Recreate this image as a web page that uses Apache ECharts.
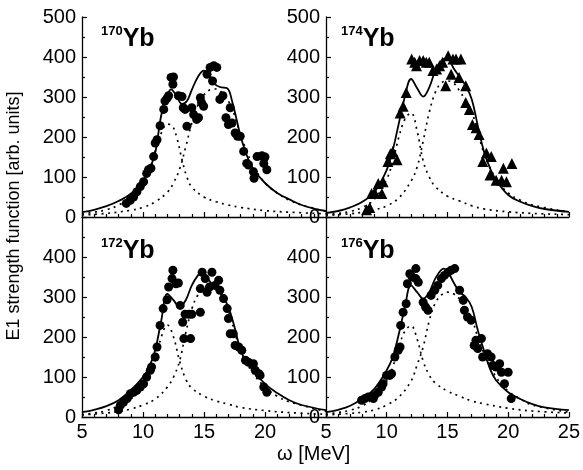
<!DOCTYPE html>
<html>
<head>
<meta charset="utf-8">
<script src="https://cdn.jsdelivr.net/npm/echarts@6/dist/echarts.min.js"></script>
<style>
  html, body { margin: 0; padding: 0; background: #fff; }
  #chart { width: 583px; height: 470px; }
</style>
</head>
<body>
<div id="chart"></div>
<script>
// 四个核素的标签
var nuclei = ['170', '174', '172', '176'];

// 170Yb 数据点 [E, S]
var pts170 = [[8.63,34],[8.96,42],[9.23,50],[9.5,63],[9.78,76],[10.05,88],[10.3,109],[10.45,118],[10.65,122],
  [10.87,151],[11.0,185],[11.15,193],[11.4,228],[11.7,269],[11.8,290],[11.97,297],[12.1,303],[12.3,349],
  [12.5,350],[12.45,332],[12.9,303],[13.2,301],[13.3,273],[13.45,269],[14.0,273],[14.15,256],[14.4,244],
  [14.55,248],[13.6,227],[14.7,298],[14.97,277],[14.8,286],[15.25,357],[15.5,374],[15.8,378],[16.05,374],
  [15.7,340],[16.3,294],[16.55,303],[17.15,273],[16.8,248],[17.0,231],[17.3,235],[17.55,210],[17.75,202],
  [17.97,202],[18.25,164],[18.5,134],[18.65,130],[19.05,113],[19.1,97],[19.35,151],[19.75,153],[20.0,150],
  [19.9,134],[20.15,118]];
var fit170 = [[5,12],[6,18],[7,27],[8,40],[9,58],[10,92],[10.5,118],[11,160],[11.5,255],[12,305],[12.3,319],
  [12.7,305],[13.2,283],[13.6,290],[14,318],[14.5,350],[15,366],[15.4,358],[15.8,335],[16.3,325],[16.9,322],
  [17.3,290],[17.7,240],[18,202],[18.5,155],[19,122],[20,85],[21,60],[22,44],[23,30],[24,21],[25,15]];
var low170 = [[5,8],[6,12],[7,18],[8,30],[9,50],[10,85],[10.5,115],[11,165],[11.5,210],[12,232],[12.4,228],
  [12.8,195],[13.2,143],[13.6,100],[14,75],[15,50],[16,38],[17,30],[18,24],[20,16],[22,12],[25,8]];
var high170 = [[5,5],[7,9],[9,17],[10,24],[11,38],[12,62],[12.5,85],[13,120],[13.5,175],[14,235],[14.5,280],
  [15,305],[15.5,318],[16,320],[16.5,310],[17,290],[17.5,255],[18,205],[18.5,165],[19,130],[20,85],[21,60],
  [22,42],[23,30],[25,14]];

// 174Yb 数据点 (三角形)
var pts174 = [[8.34,18],[8.6,24],[8.75,59],[9.0,61],[9.6,59],[9.3,84],[9.7,88],[10.1,139],[10.3,158],[10.5,164],
  [10.85,143],[11.1,260],[11.35,277],[11.6,311],[12.05,395],[12.3,387],[12.45,378],[12.7,391],[13.0,391],
  [13.25,387],[13.5,387],[13.8,366],[14.1,370],[14.35,378],[14.6,387],[15.05,403],[15.45,395],[15.7,395],
  [16.1,395],[14.85,328],[15.3,357],[15.95,349],[16.5,328],[16.5,286],[16.8,269],[17.05,231],[17.35,223],
  [17.6,206],[18.2,160],[17.9,139],[18.6,151],[18.5,105],[19.0,92],[19.45,92],[19.6,122],[19.85,88],[20.3,134]];
var fit174 = [[5,10],[6,15],[7,24],[8,38],[9,63],[10,118],[10.5,168],[11,235],[11.5,302],[12,345],[12.5,322],
  [13,301],[13.5,324],[14,366],[14.5,391],[15,397],[15.5,372],[16,350],[16.5,328],[17,294],[17.5,227],
  [18,164],[18.5,122],[19,92],[20,55],[21,38],[22,27],[23,20],[25,13]];
var low174 = [[5,6],[6,9],[7,14],[8,24],[9,45],[10,95],[10.5,140],[11,200],[11.5,245],[12,260],[12.5,215],
  [13,140],[13.5,100],[14,76],[15,52],[16,40],[17,28],[18,20],[20,13],[22,9],[25,6]];
var high174 = [[5,4],[7,8],[8,12],[9,18],[10,28],[11,48],[12,90],[12.5,125],[13,190],[13.5,262],[14,312],
  [14.5,335],[15,340],[15.5,335],[16,315],[16.5,290],[17,262],[17.5,212],[18,160],[19,95],[20,60],[21,42],
  [22,30],[25,12]];

// 172Yb
var pts172 = [[8.0,18],[8.14,29],[8.4,37],[8.7,46],[8.96,58],[9.23,62],[9.5,67],[9.78,75],[10.05,83],[10.3,100],
  [10.6,117],[10.7,125],[11.0,150],[11.15,175],[11.4,229],[11.65,271],[11.97,293],[12.1,325],[12.38,346],
  [12.45,367],[12.7,333],[12.9,335],[13.05,279],[13.25,237],[13.45,257],[13.75,257],[14.0,257],[13.35,196],
  [13.9,196],[14.7,262],[14.7,321],[14.85,362],[15.1,346],[15.25,312],[15.65,362],[15.45,325],[15.9,329],
  [16.2,342],[16.3,317],[16.6,296],[16.9,271],[17.0,246],[17.15,208],[17.4,208],[17.55,179],[17.85,175],
  [18.1,167],[18.4,142],[18.65,137],[19.05,133],[19.2,117],[19.5,108],[19.6,104],[19.9,75],[20.15,62]];
var fit172 = [[5,12],[6,18],[7,27],[8,42],[9,67],[10,100],[10.5,125],[11,167],[11.5,242],[12,308],[12.5,292],
  [13,275],[13.5,292],[14,329],[14.5,354],[14.8,362],[15.5,338],[16,321],[16.5,304],[17,275],[17.5,225],
  [18,167],[18.5,137],[19,117],[20,83],[21,60],[22,42],[23,30],[25,17]];
var low172 = [[5,6],[6,10],[7,16],[8,28],[9,45],[10,75],[10.5,100],[11,140],[11.5,200],[12,230],[12.5,200],
  [13,140],[13.5,95],[14,72],[15,52],[16,40],[17,32],[18,24],[20,16],[22,11],[25,7]];
var high172 = [[5,5],[7,10],[8,14],[9,20],[10,30],[11,45],[12,75],[12.5,100],[13,140],[13.5,210],[14,270],
  [14.5,305],[15,322],[15.5,328],[16,322],[16.5,300],[17,265],[17.5,215],[18,165],[19,110],[20,75],[21,52],
  [22,38],[25,14]];

// 176Yb
var pts176 = [[7.93,42],[8.2,46],[8.48,50],[8.75,50],[8.9,46],[9.0,54],[9.3,62],[9.58,75],[9.7,83],[9.98,104],
  [10.25,104],[10.4,108],[10.67,150],[10.95,167],[11.1,175],[11.15,229],[11.35,262],[11.6,283],[11.7,333],
  [11.9,358],[12.1,350],[12.4,371],[12.4,346],[12.6,337],[13.0,287],[13.2,275],[13.4,267],[13.65,304],
  [13.95,317],[14.2,329],[14.5,346],[14.75,354],[15.05,362],[15.3,367],[15.6,371],[16.0,317],[16.3,292],
  [16.4,267],[16.65,250],[16.95,242],[17.2,179],[17.35,192],[17.5,171],[17.8,196],[17.9,150],[18.3,158],
  [18.6,150],[18.75,129],[19.0,125],[19.3,133],[19.45,112],[19.7,83],[20.0,112],[20.25,46]];
var fit176 = [[5,12],[6,18],[7,28],[8,46],[9,71],[10,117],[10.5,150],[11,208],[11.5,275],[12,329],[12.5,312],
  [13,296],[13.5,312],[14,346],[14.7,371],[15.2,354],[15.5,337],[16,312],[16.5,300],[17,275],[17.5,217],
  [18,167],[18.5,121],[19,92],[20,62],[21,45],[22,32],[23,24],[25,17]];
var low176 = [[5,7],[6,11],[7,17],[8,28],[9,50],[10,90],[10.5,125],[11,175],[11.5,215],[12,228],[12.5,195],
  [13,140],[13.5,105],[14,85],[15,65],[16,52],[17,40],[18,33],[20,22],[22,15],[25,10]];
var high176 = [[5,5],[7,9],[8,12],[9,18],[10,30],[11,50],[12,90],[12.5,130],[13,175],[13.5,240],[14,285],
  [14.5,305],[15,312],[15.5,308],[16,295],[16.5,270],[17,245],[17.5,200],[18,160],[19,100],[20,65],[21,45],
  [22,30],[25,12]];

var xTicks = [5, 10, 15, 20, 25];
var yTicks = [0, 100, 200, 300, 400, 500];

var font = 'Liberation Sans, Arial, sans-serif';
var panels = [
  {pts: pts170, fit: fit170, low: low170, high: high170, sym: 'circle'},
  {pts: pts174, fit: fit174, low: low174, high: high174, sym: 'triangle'},
  {pts: pts172, fit: fit172, low: low172, high: high172, sym: 'circle'},
  {pts: pts176, fit: fit176, low: low176, high: high176, sym: 'circle'}
];

var grids = [
  {left: 82, top: 17, width: 244, height: 200},
  {left: 326, top: 17, width: 243, height: 200},
  {left: 82, top: 217, width: 244, height: 200},
  {left: 326, top: 217, width: 243, height: 200}
];

var axisLine = {lineStyle: {color: '#000', width: 1.3}};
var xAxes = [], yAxes = [], series = [], titles = [];

for (var i = 0; i < 4; i++) {
  var bottom = i >= 2;
  xAxes.push({
    gridIndex: i, type: 'value', min: xTicks[0], max: xTicks[xTicks.length - 1], interval: 5,
    axisLine: axisLine,
    axisTick: {inside: true, length: 5, lineStyle: {color: '#000', width: 1.2}},
    minorTick: {show: true, splitNumber: 5, length: 3, lineStyle: {color: '#000', width: 1.2}},
    splitLine: {show: false},
    axisLabel: {show: bottom, color: '#000', fontSize: 20, fontFamily: font, margin: 5,
      showMaxLabel: i != 2}
  });
  yAxes.push({
    gridIndex: i, type: 'value', min: yTicks[0], max: yTicks[yTicks.length - 1], interval: 100,
    axisLine: axisLine,
    axisTick: {inside: true, length: 5, lineStyle: {color: '#000', width: 1.2}},
    minorTick: {show: true, splitNumber: 2, length: 3, lineStyle: {color: '#000', width: 1.2}},
    splitLine: {show: false},
    axisLabel: {color: '#000', fontSize: 20, fontFamily: font, margin: 6, showMaxLabel: !bottom}
  });
  var p = panels[i];
  series.push({
    type: 'line', xAxisIndex: i, yAxisIndex: i, data: p.low, smooth: 0.4, symbol: 'none',
    lineStyle: {color: '#000', width: 1.7, type: [2, 4.5]}, z: 2
  });
  series.push({
    type: 'line', xAxisIndex: i, yAxisIndex: i, data: p.high, smooth: 0.4, symbol: 'none',
    lineStyle: {color: '#000', width: 1.7, type: [2, 4.5]}, z: 2
  });
  series.push({
    type: 'scatter', xAxisIndex: i, yAxisIndex: i, data: p.pts, symbol: p.sym,
    symbolSize: p.sym == 'triangle' ? 11 : 9, itemStyle: {color: '#000', opacity: 1}, z: 3
  });
  series.push({
    type: 'line', xAxisIndex: i, yAxisIndex: i, data: p.fit, smooth: 0.4, symbol: 'none',
    lineStyle: {color: '#000', width: 1.8}, z: 4
  });
  titles.push({
    text: '{s|' + nuclei[i] + '}{m|Yb}',
    left: (i % 2 == 0 ? 96 : 336),
    top: (bottom ? 232 : 20),
    textStyle: {
      rich: {
        s: {fontSize: 13, fontWeight: 'bold', fontFamily: font, color: '#000', verticalAlign: 'top', lineHeight: 28},
        m: {fontSize: 25, fontWeight: 'bold', fontFamily: font, color: '#000', lineHeight: 28}
      }
    }
  });
}

var chart = echarts.init(document.getElementById('chart'));
chart.setOption({
  animation: false,
  title: titles,
  grid: grids,
  xAxis: xAxes,
  yAxis: yAxes,
  series: series,
  graphic: [
    {type: 'text', left: 277, top: 444,
      style: {text: 'ω [MeV]', fontSize: 20, fontFamily: font, fill: '#000'}},
    {type: 'text', x: 14, y: 216, rotation: Math.PI / 2,
      style: {text: 'E1 strength function [arb. units]', fontSize: 18, fontFamily: font, fill: '#000',
        align: 'center', verticalAlign: 'middle'}}
  ]
});
</script>
</body>
</html>
